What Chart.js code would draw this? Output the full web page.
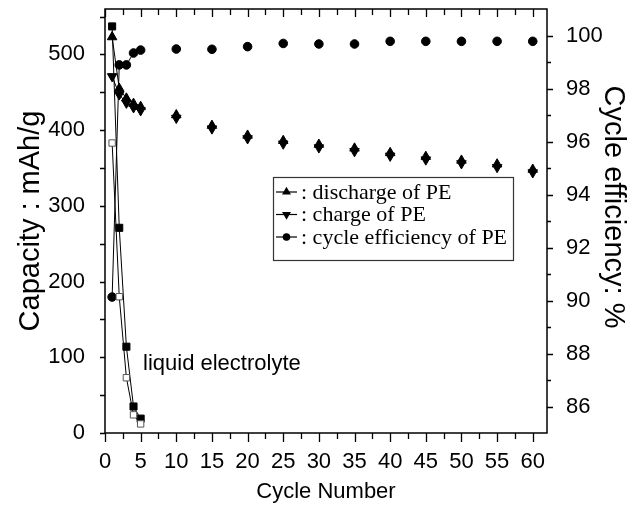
<!DOCTYPE html>
<html><head><meta charset="utf-8">
<script src="https://cdn.jsdelivr.net/npm/chart.js@4/dist/chart.umd.min.js"></script>
<style>html,body{margin:0;padding:0;background:#fff}</style>
</head><body>
<canvas id="c" width="638" height="505"></canvas>
<script>
// ---- data ----
const cycles = [1,2,3,4,5,10,15,20,25,30,35,40,45,50,55,60];
const peDischarge = [523,455,442,435,431,420,406,393,386,381,376,370,365,360,355,348];
const peCharge    = [471,447,436,430,426,416,402,389,382,377,372,366,361,356,351,344];
const peEfficiency = [90.13,98.89,98.89,99.34,99.45,99.49,99.48,99.58,99.7,99.68,99.68,99.78,99.78,99.78,99.78,99.78];
const liquidCycles = [1,2,3,4,5];
const liquidDischarge = [537,271,114,35,19];
const liquidCharge    = [383,180,73,24,12];
const xTickLabels = [0,5,10,15,20,25,30,35,40,45,50,55,60];
const yTickLabels = [0,100,200,300,400,500];
const y2TickLabels = [86,88,90,92,94,96,98,100];
const legendLabels = [': discharge of PE', ': charge of PE', ': cycle efficiency of PE'];
const annotationText = 'liquid electrolyte';
const xTitle = 'Cycle Number';
const yTitle = 'Capacity : mAh/g';
const y2Title = 'Cycle efficiency: %';

const pts = (xs, ys) => xs.map((x, i) => ({x, y: ys[i]}));
const SANS = "'Liberation Sans', Arial, sans-serif";
const SERIF = "'Liberation Serif', 'Times New Roman', serif";
const lineUpTo5 = {borderColor: c => c.p0.parsed.x >= 5 ? 'rgba(0,0,0,0)' : '#000'};

const axisPlugin = {
  id: 'axisDecor',
  afterDraw(chart) {
    const {ctx, chartArea: a, scales} = chart;
    ctx.save();
    ctx.strokeStyle = '#000';
    ctx.lineWidth = 1.5;
    ctx.strokeRect(a.left, a.top, a.right - a.left, a.bottom - a.top);
    ctx.lineWidth = 1.3;
    ctx.beginPath();
    for (let v = 0; v <= 60; v += 2.5) {
      const px = Math.round(scales.x.getPixelForValue(v)) + 0.5;
      const major = v % 5 === 0;
      ctx.moveTo(px, a.bottom); ctx.lineTo(px, a.bottom + (major ? 9 : 6));
      ctx.moveTo(px, a.top); ctx.lineTo(px, a.top + (major ? 8 : 6));
    }
    for (let v = 0; v <= 550; v += 50) {
      const py = Math.round(scales.y.getPixelForValue(v)) + 0.5;
      ctx.moveTo(a.left, py); ctx.lineTo(a.left - 5, py);
    }
    for (let v = 86; v <= 100; v += 1) {
      const py = Math.round(scales.y2.getPixelForValue(v)) + 0.5;
      ctx.moveTo(a.right, py); ctx.lineTo(a.right + (v % 2 === 0 ? 6 : 4), py);
    }
    ctx.stroke();

    ctx.fillStyle = '#000';
    ctx.textBaseline = 'middle';
    ctx.textAlign = 'center';
    ctx.font = '29px ' + SANS;
    ctx.save();
    ctx.translate(31, (a.top + a.bottom) / 2);
    ctx.rotate(-Math.PI / 2);
    ctx.fillText(yTitle, 0, 0);
    ctx.restore();
    ctx.save();
    ctx.translate(613, 207);
    ctx.rotate(Math.PI / 2);
    ctx.fillText(y2Title, 0, 0);
    ctx.restore();

    ctx.font = '22px ' + SANS;
    ctx.textAlign = 'left';
    ctx.fillText(annotationText, 143, 364);

    const bx = 273, by = 177, bw = 240, bh = 83;
    ctx.lineWidth = 1.2;
    ctx.strokeStyle = '#333';
    ctx.strokeRect(bx + 0.5, by + 0.5, bw, bh);
    ctx.font = '22px ' + SERIF;
    const rows = [192, 214.5, 237];
    const styles = ['triangle', 'triangle', 'circle'];
    const rots = [0, 180, 0];
    rows.forEach((ry, i) => {
      ctx.strokeStyle = '#000';
      ctx.lineWidth = 1.2;
      ctx.beginPath();
      ctx.moveTo(bx + 3, ry); ctx.lineTo(bx + 24, ry);
      ctx.stroke();
      ctx.fillStyle = '#000';
      Chart.helpers.drawPoint(ctx, {pointStyle: styles[i], rotation: rots[i], radius: styles[i] === 'circle' ? 3.2 : 4, borderWidth: 1}, bx + 13.5, ry);
      ctx.fillStyle = '#000';
      ctx.fillText(legendLabels[i], bx + 28, ry + 1);
    });
    ctx.restore();
  }
};

const noVPad = s => { s.paddingTop = 0; s.paddingBottom = 0; };

new Chart(document.getElementById('c'), {
  type: 'scatter',
  data: {
    datasets: [
      {label: 'liquid charge', data: pts(liquidCycles, liquidCharge), yAxisID: 'y', showLine: true,
       borderColor: '#000', borderWidth: 1, pointStyle: 'rect', pointRadius: 4.5,
       pointBackgroundColor: '#fff', pointBorderColor: '#555', pointBorderWidth: 1},
      {label: 'liquid discharge', data: pts(liquidCycles, liquidDischarge), yAxisID: 'y', showLine: true,
       borderColor: '#000', borderWidth: 1, pointStyle: 'rect', pointRadius: 5,
       pointBackgroundColor: '#000', pointBorderColor: '#000', pointBorderWidth: 1},
      {label: 'discharge of PE', data: pts(cycles, peDischarge), yAxisID: 'y', showLine: true,
       borderColor: '#000', borderWidth: 1, segment: lineUpTo5, pointStyle: 'triangle', pointRadius: 5.5,
       pointBackgroundColor: '#000', pointBorderColor: '#000', pointBorderWidth: 1},
      {label: 'charge of PE', data: pts(cycles, peCharge), yAxisID: 'y', showLine: true,
       borderColor: '#000', borderWidth: 1, segment: lineUpTo5, pointStyle: 'triangle', pointRotation: 180, pointRadius: 5.5,
       pointBackgroundColor: '#000', pointBorderColor: '#000', pointBorderWidth: 1},
      {label: 'cycle efficiency of PE', data: pts(cycles, peEfficiency), yAxisID: 'y2', showLine: true,
       borderColor: '#000', borderWidth: 1, segment: lineUpTo5, pointStyle: 'circle', pointRadius: 4.3,
       pointBackgroundColor: '#000', pointBorderColor: '#000', pointBorderWidth: 1}
    ]
  },
  options: {
    responsive: false,
    animation: false,
    layout: {padding: {top: 9, left: 0, right: 0, bottom: 0}},
    plugins: {legend: {display: false}, tooltip: {enabled: false}},
    scales: {
      x: {
        type: 'linear', position: 'bottom', min: 0, max: 62,
        afterFit: s => { s.height = 72; },
        afterBuildTicks: s => { s.ticks = xTickLabels.map(v => ({value: v})); },
        grid: {display: false}, border: {display: false},
        ticks: {color: '#000', font: {family: SANS, size: 22}, padding: 8, maxRotation: 0, autoSkip: false},
        title: {display: true, text: xTitle, color: '#000', font: {family: SANS, size: 22}, padding: {top: 0, bottom: 0}}
      },
      y: {
        type: 'linear', position: 'left', min: 0, max: 560,
        afterFit: s => { s.width = 105; noVPad(s); },
        afterBuildTicks: s => { s.ticks = yTickLabels.map(v => ({value: v})); },
        grid: {display: false}, border: {display: false},
        ticks: {color: '#000', font: {family: SANS, size: 22}, padding: 12}
      },
      y2: {
        type: 'linear', position: 'right', min: 85, max: 101,
        afterFit: s => { s.width = 91; noVPad(s); },
        afterBuildTicks: s => { s.ticks = y2TickLabels.map(v => ({value: v})); },
        grid: {display: false}, border: {display: false},
        ticks: {color: '#000', font: {family: SANS, size: 22}, padding: 11}
      }
    }
  },
  plugins: [axisPlugin]
});
</script>
</body></html>
